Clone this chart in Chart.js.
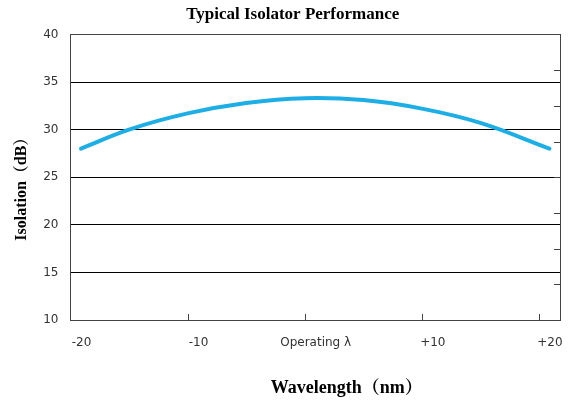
<!DOCTYPE html>
<html>
<head>
<meta charset="utf-8">
<script src="https://cdn.jsdelivr.net/npm/chart.js@4/dist/chart.umd.min.js"></script>
<style>
  html, body { margin: 0; padding: 0; background: #fff; }
  #wrap { width: 569px; height: 406px; }
</style>
</head>
<body>
<div id="wrap"><canvas id="isolator-chart"></canvas></div>
<script>
  const wavelength = [-19.1, -15, -10, -5, 0, 5, 10, 15, 20.9];
  const isolation  = [28.0, 30.0, 31.7, 32.8, 33.3, 33.1, 32.2, 30.7, 28.0];
  const xTickValues = [-20, -10, 0, 10, 20];
  const xTickLabels = ['-20', '-10', 'Operating λ', '+10', '+20'];

  const serif = "'Liberation Serif', 'Noto Serif CJK SC', 'Noto Sans CJK SC', serif";
  const sans = "'DejaVu Sans', 'Noto Sans', sans-serif";

  // small tick marks drawn inside the plot frame (bottom and right)
  const innerTicks = {
    id: 'innerTicks',
    afterDraw(chart) {
      const c = chart.ctx, a = chart.chartArea;
      const xs = chart.scales.x, y2 = chart.scales.y2;
      c.save();
      c.strokeStyle = '#444';
      c.lineWidth = 1;
      c.beginPath();
      xs.ticks.forEach(t => {
        if (t.value <= xs.min) return;
        const px = Math.round(xs.getPixelForValue(t.value)) + 0.5;
        c.moveTo(px, a.bottom);
        c.lineTo(px, a.bottom - 6);
      });
      y2.ticks.forEach(t => {
        if (t.value <= y2.min || t.value >= y2.max) return;
        const py = Math.round(y2.getPixelForValue(t.value)) + 0.5;
        c.moveTo(a.right, py);
        c.lineTo(a.right - 6, py);
      });
      c.stroke();
      c.restore();
    }
  };

  new Chart(document.getElementById('isolator-chart'), {
    type: 'line',
    data: {
      datasets: [{
        data: wavelength.map((w, i) => ({ x: w, y: isolation[i] })),
        borderColor: 'rgb(30, 174, 230)',
        borderWidth: 4,
        borderCapStyle: 'round',
        pointRadius: 0,
        tension: 0.4,
        fill: false
      }]
    },
    options: {
      responsive: true,
      maintainAspectRatio: false,
      animation: false,
      layout: { padding: { left: 0, right: 9, top: 0, bottom: 7 } },
      plugins: {
        legend: { display: false },
        tooltip: { enabled: false },
        title: {
          display: true,
          text: '\u3000\u2002Typical Isolator Performance',
          color: '#000',
          font: { family: serif, size: 17, weight: 'bold' },
          padding: { top: 4, bottom: 10 }
        }
      },
      scales: {
        x: {
          type: 'linear',
          min: -20,
          max: 21.8,
          afterBuildTicks: s => { s.ticks = xTickValues.map(v => ({ value: v })); },
          ticks: {
            color: '#333',
            font: { family: sans, size: 12 },
            padding: 16,
            labelOffset: 11,
            maxRotation: 0,
            callback: v => xTickLabels[xTickValues.indexOf(v)]
          },
          grid: { display: false, drawTicks: false },
          border: { display: true, color: '#444', width: 1 },
          title: {
            display: true,
            text: '\u3000\u3000\u3000\u2002Wavelength（nm）',
            color: '#000',
            font: { family: serif, size: 18, weight: 'bold' },
            padding: { top: 11, bottom: 0 }
          }
        },
        y: {
          min: 10,
          max: 40,
          ticks: {
            stepSize: 5,
            color: '#333',
            font: { family: sans, size: 12 },
            padding: 12
          },
          grid: {
            color: ctx => (ctx.tick && ctx.tick.value === 40 ? '#444' : '#000'),
            lineWidth: 1,
            drawTicks: false
          },
          border: { display: true, color: '#444', width: 1 },
          title: {
            display: true,
            text: 'Isolation（dB）\u3000\u2002',
            color: '#000',
            font: { family: serif, size: 16, weight: 'bold' },
            padding: { top: 12, bottom: 0 }
          }
        },
        y2: {
          position: 'right',
          min: 10,
          max: 40,
          ticks: { display: false, stepSize: 3.75 },
          grid: { drawOnChartArea: false, drawTicks: false },
          border: { display: true, color: '#444', width: 1 }
        }
      }
    },
    plugins: [innerTicks]
  });
</script>
</body>
</html>
